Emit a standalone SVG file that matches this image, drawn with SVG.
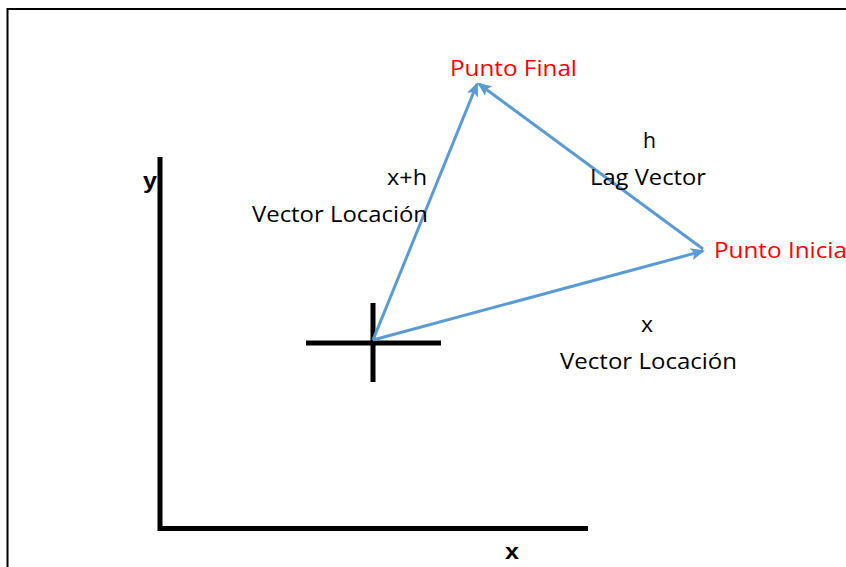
<svg xmlns="http://www.w3.org/2000/svg" width="846" height="567" viewBox="0 0 846 567">
<style>
.lbl{font-family:"Open Sans","Noto Sans","Liberation Sans",sans-serif;font-size:22px;fill:#000}
.red{fill:#FF0000}
.ax{font-family:"Liberation Sans",Arial,sans-serif;font-weight:bold;font-size:22px;fill:#000}
.vec{stroke:#5B9BD5;stroke-width:3;fill:none}
.blk{stroke:#000;stroke-width:5;fill:none}
</style>
<defs>
<marker id="ah" markerWidth="14" markerHeight="12" refX="12" refY="6" orient="auto" markerUnits="userSpaceOnUse">
<path d="M0,0 L14,6 L0,12 L3,6 Z" fill="#5B9BD5"/>
</marker>
</defs>
<rect width="846" height="567" fill="#fff"/>
<path d="M7.5,567 V9 H846" stroke="#000" stroke-width="2" fill="none"/>
<g id="axes">
<path class="blk" d="M160,157 V528.5 H588" stroke-width="6"/>
<text class="ax" x="143" y="188" textLength="14" lengthAdjust="spacingAndGlyphs">y</text>
<text class="ax" x="505" y="559" textLength="14" lengthAdjust="spacingAndGlyphs">x</text>
</g>
<g id="origin">
<path class="blk" d="M306,343 H441 M373,303 V382"/>
</g>
<g id="connectors">
<line class="vec" x1="373" y1="340" x2="477" y2="84" marker-end="url(#ah)"/>
<line class="vec" x1="703" y1="249" x2="479" y2="84" marker-end="url(#ah)"/>
<line class="vec" x1="373" y1="340" x2="703" y2="251" marker-end="url(#ah)"/>
</g>
<g id="punto-final"><text class="lbl red" x="450" y="76" textLength="127" lengthAdjust="spacingAndGlyphs">Punto Final</text></g>
<g id="punto-inicial"><text class="lbl red" x="714" y="258" textLength="139" lengthAdjust="spacingAndGlyphs">Punto Inicial</text></g>
<g id="label-xh">
<text class="lbl" x="387" y="185" textLength="40" lengthAdjust="spacingAndGlyphs">x+h</text>
<text class="lbl" x="252" y="222" textLength="176" lengthAdjust="spacingAndGlyphs">Vector Locación</text>
</g>
<g id="label-h">
<text class="lbl" x="643" y="148" textLength="13" lengthAdjust="spacingAndGlyphs">h</text>
<text class="lbl" x="590" y="185" textLength="116" lengthAdjust="spacingAndGlyphs">Lag Vector</text>
</g>
<g id="label-x">
<text class="lbl" x="641" y="332" textLength="12" lengthAdjust="spacingAndGlyphs">x</text>
<text class="lbl" x="560" y="369" textLength="177" lengthAdjust="spacingAndGlyphs">Vector Locación</text>
</g>
</svg>
